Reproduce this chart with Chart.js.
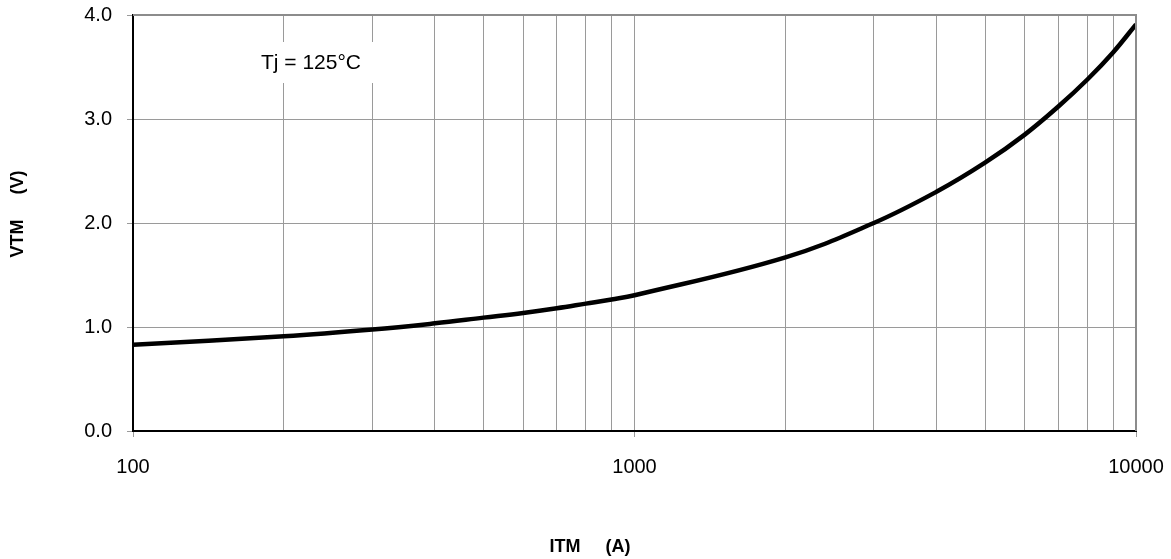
<!DOCTYPE html>
<html>
<head>
    <title>VTM vs ITM</title>
    <style>
        body { margin: 0; background: #fff; }
        #wrap { width: 1171px; height: 559px; }
    </style>
</head>
<body>
    <div id="wrap"><canvas id="vtm-chart" width="1171" height="559"></canvas></div>

    <script src="https://cdn.jsdelivr.net/npm/chart.js"></script>
    <script>
        // on-state current (A) and voltage (V) at Tj = 125°C
        const currents = [100, 200, 300, 400, 500, 600, 700, 800, 900, 1000,
                          2000, 3000, 4000, 5000, 6000, 7000, 8000, 9000, 10000];
        const voltages = [0.83, 0.91, 0.975, 1.035, 1.09, 1.135, 1.18, 1.225, 1.265, 1.305,
                          1.67, 2.00, 2.30, 2.58, 2.85, 3.12, 3.38, 3.64, 3.91];
        // grid positions on the log axis and which ones get a label
        const xGridTicks = [100, 200, 300, 400, 500, 600, 700, 800, 900,
                            1000, 2000, 3000, 4000, 5000, 6000, 7000, 8000, 9000, 10000];
        const xLabelTicks = [100, 1000, 10000];
        const yTicks = [0, 1, 2, 3, 4];
        const noteText = 'Tj = 125°C';
        const xTitle = 'ITM     (A)';
        const yTitle = 'VTM     (V)';

        const FONT = 'Arial, "Liberation Sans", sans-serif';

        // titles, the note box and the gray top/right frame
        const decorations = {
            id: 'decorations',
            beforeDatasetsDraw(chart) {
                const ctx = chart.ctx;
                ctx.save();
                ctx.fillStyle = '#fff';
                ctx.fillRect(250, 42, 128, 41);
                ctx.fillStyle = '#000';
                ctx.font = '21px ' + FONT;
                ctx.textAlign = 'center';
                ctx.textBaseline = 'middle';
                ctx.fillText(noteText, 311, 63);
                ctx.restore();
            },
            afterDraw(chart) {
                const ctx = chart.ctx;
                const a = chart.chartArea;
                ctx.save();
                ctx.strokeStyle = '#8c8c8c';
                ctx.lineWidth = 2;
                ctx.beginPath();
                ctx.moveTo(a.left, a.top);
                ctx.lineTo(a.right, a.top);
                ctx.lineTo(a.right, a.bottom);
                ctx.stroke();

                ctx.fillStyle = '#000';
                ctx.font = 'bold 18px ' + FONT;
                ctx.textAlign = 'center';
                ctx.textBaseline = 'middle';
                ctx.fillText(xTitle, 590, 547);
                ctx.translate(18, 214);
                ctx.rotate(-Math.PI / 2);
                ctx.fillText(yTitle, 0, 0);
                ctx.restore();
            }
        };

        const ctx = document.getElementById('vtm-chart').getContext('2d');
        const vtmChart = new Chart(ctx, {
            type: 'line',
            data: {
                datasets: [{
                    label: 'VTM',
                    data: currents.map((c, i) => ({ x: c, y: voltages[i] })),
                    borderColor: '#000',
                    borderWidth: 4.5,
                    pointRadius: 0,
                    tension: 0.4,
                    fill: false
                }]
            },
            options: {
                responsive: false,
                animation: false,
                layout: { padding: { top: 15, right: 35, left: 0, bottom: 0 } },
                plugins: {
                    legend: { display: false },
                    tooltip: { enabled: false }
                },
                scales: {
                    x: {
                        type: 'logarithmic',
                        min: 100,
                        max: 10000,
                        afterBuildTicks(scale) {
                            scale.ticks = xGridTicks.map(v => ({ value: v }));
                        },
                        afterFit(scale) {
                            scale.height = 128;
                            scale.paddingLeft = 0;
                            scale.paddingRight = 0;
                        },
                        border: { color: '#000', width: 2 },
                        grid: {
                            color: '#9a9a9a',
                            lineWidth: 1,
                            tickLength: 6,
                            tickColor: c => xLabelTicks.includes(c.tick.value) ? '#9a9a9a' : 'rgba(0,0,0,0)'
                        },
                        ticks: {
                            autoSkip: false,
                            maxRotation: 0,
                            padding: 18,
                            color: '#000',
                            font: { family: FONT, size: 20 },
                            callback: v => xLabelTicks.includes(v) ? String(v) : ''
                        }
                    },
                    y: {
                        min: 0,
                        max: 4,
                        afterBuildTicks(scale) {
                            scale.ticks = yTicks.map(v => ({ value: v }));
                        },
                        afterFit(scale) {
                            scale.width = 133;
                            scale.paddingTop = 0;
                            scale.paddingBottom = 0;
                        },
                        border: { color: '#000', width: 2 },
                        grid: {
                            color: '#9a9a9a',
                            lineWidth: 1,
                            tickLength: 6
                        },
                        ticks: {
                            padding: 15,
                            color: '#000',
                            font: { family: FONT, size: 20 },
                            callback: v => v.toFixed(1)
                        }
                    }
                }
            },
            plugins: [decorations]
        });
    </script>
</body>
</html>
